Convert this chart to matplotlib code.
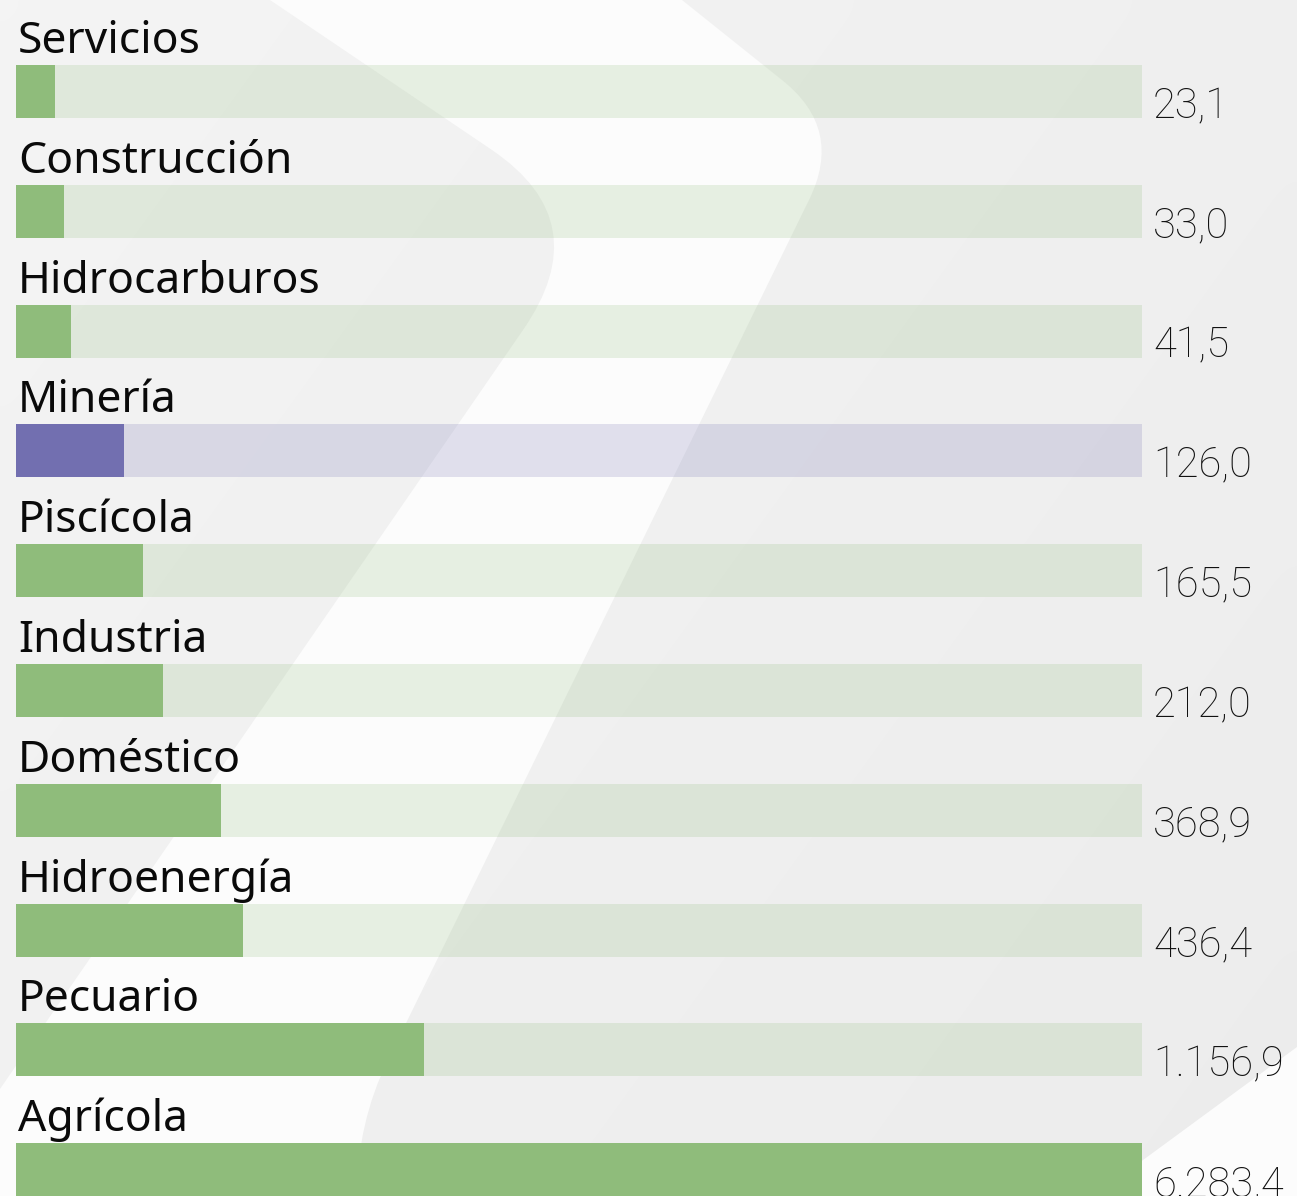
import numpy as np
import matplotlib
matplotlib.use("Agg")
import matplotlib.pyplot as plt
from matplotlib.path import Path
from matplotlib.patches import PathPatch, Polygon
from matplotlib.transforms import blended_transform_factory

# water use by sector (hm3)
sectors = ["Servicios", "Construcción", "Hidrocarburos", "Minería", "Piscícola",
           "Industria", "Doméstico", "Hidroenergía", "Pecuario", "Agrícola"]
volumes = [23.1, 33.0, 41.5, 126.0, 165.5, 212.0, 368.9, 436.4, 1156.9, 6283.4]
highlight = "Minería"

GREEN = "#8fbc7b"
PURPLE = "#726fb0"
W, H = 1297, 1196


def fmt_es(v):
    s = f"{v:,.1f}"
    return s.replace(",", "X").replace(".", ",").replace("X", ".")


fig = plt.figure(figsize=(W / 100, H / 100), dpi=100)

# background: soft grey gradient with a white diagonal band
bg = fig.add_axes([0, 0, 1, 1])
bg.set_xlim(0, W)
bg.set_ylim(H, 0)
bg.axis("off")
gx, gy = np.meshgrid(np.linspace(0, 1, 64), np.linspace(0, 1, 64))
grad = 0.957 - 0.03 * (0.6 * gx + 0.4 * gy)
bg.imshow(np.dstack([grad, grad, grad]), extent=(0, W, H, 0), aspect="auto",
          interpolation="bicubic", zorder=0)

band = Path(
    [(270, 0), (682, 0), (782, 80), (844, 129), (809, 200),
     (388, 1060), (357, 1123), (357, 1196), (0, 1196), (0, 1089),
     (523, 330), (598, 222), (492, 150), (270, 0)],
    [Path.MOVETO, Path.LINETO, Path.LINETO, Path.CURVE3, Path.CURVE3,
     Path.LINETO, Path.CURVE3, Path.CURVE3, Path.LINETO, Path.LINETO,
     Path.LINETO, Path.CURVE3, Path.CURVE3, Path.CLOSEPOLY])
bg.add_patch(PathPatch(band, facecolor="#fcfcfc", edgecolor="none", zorder=1))
bg.add_patch(Polygon([(1297, 1047), (1297, 1196), (1094, 1196)],
                     facecolor="#fcfcfc", edgecolor="none", zorder=1))

# bars
left = 16 / W
width = 1126 / W
ax = fig.add_axes([left, 0, width, 1])
ax.patch.set_alpha(0)
p = 0.6
ax.set_xscale("function", functions=(lambda x: np.power(np.clip(x, 0, None), p),
                                     lambda x: np.power(np.clip(x, 0, None), 1 / p)))
vmax = max(volumes)
ax.set_xlim(0, vmax)
row = 119.8
ax.set_ylim((H - 91.5) / row, -91.5 / row)
ax.axis("off")

y = np.arange(len(sectors))
colors = [PURPLE if s == highlight else GREEN for s in sectors]
bh = 53 / row
ax.barh(y, [vmax] * len(y), height=bh, color=colors, alpha=0.2, linewidth=0)
ax.barh(y, volumes, height=bh, color=colors, linewidth=0)

tr = blended_transform_factory(ax.transAxes, ax.transData)
for i, (s, v) in enumerate(zip(sectors, volumes)):
    ax.text(2 / 1126, i - bh / 2 - 12 / row, s, transform=tr,
            ha="left", va="baseline", fontsize=32, family="Noto Sans",
            color="#0a0a0a")
    ax.text(1.0098, i + bh / 2, fmt_es(v), transform=tr,
            ha="left", va="baseline", fontsize=30, family="Roboto",
            fontweight="light", color="#111111", clip_on=False)

fig.savefig("out.png", dpi=100)
